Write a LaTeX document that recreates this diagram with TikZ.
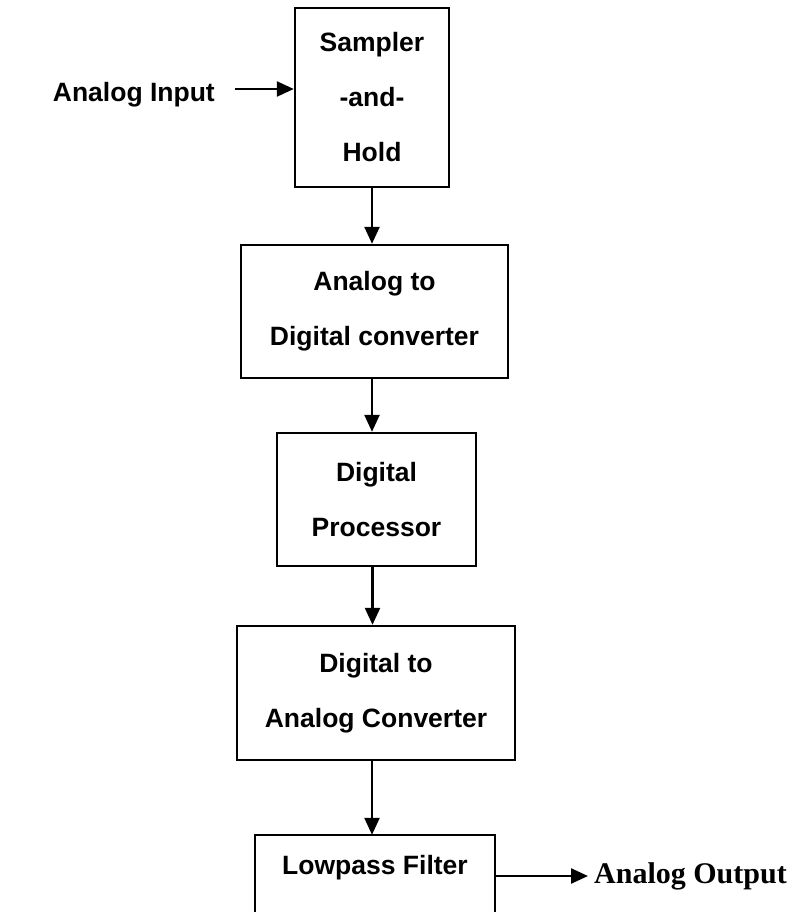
\documentclass[tikz,border=0pt]{standalone}
\usepackage{fontspec}
\setmainfont{Liberation Sans}
\newfontfamily\serifbold{Liberation Serif}
\usetikzlibrary{arrows.meta}
\tikzset{
  blk/.style={draw, line width=2.4pt, align=center, inner sep=0pt,
    font=\fontsize{26.5}{55}\selectfont\bfseries},
  flow/.style={line width=2.4pt, -{Triangle[length=17pt,width=15pt]}},
  lbl/.style={inner sep=0pt, font=\fontsize{26.5}{30}\selectfont\bfseries}
}
\begin{document}
\begin{tikzpicture}[x=1pt,y=-1pt]
\useasboundingbox (0,0) rectangle (793,912);
\clip (0,0) rectangle (793,912);
\fill[white] (0,0) rectangle (793,912);
\node[blk, minimum width=154pt, minimum height=179pt] (S) at (372,97.5) {Sampler\\-and-\\Hold};
\node[blk, minimum width=267pt, minimum height=133pt] (ADC) at (374.5,311.5) {Analog to\\Digital converter};
\node[blk, minimum width=199pt, minimum height=133pt] (DP) at (376.5,499.5) {Digital\\Processor};
\node[blk, minimum width=278pt, minimum height=134pt] (DAC) at (376,693) {Digital to\\Analog Converter};
\node[lbl, minimum width=240pt, minimum height=66pt] (LP) at (375,868) {Lowpass Filter};
\draw[line width=2.4pt] ([yshift=-80pt]LP.south west) -- (LP.north west) -- (LP.north east) -- ([yshift=-80pt]LP.south east);
\node[lbl, anchor=east] (AI) at (215,95) {Analog Input};
\node[inner sep=0pt, anchor=west, font=\fontsize{30}{32}\selectfont\serifbold\bfseries] (AO) at (594,876) {Analog Output};
\coordinate (AIs) at (235,89);
\draw[flow] (AIs) -- (AIs -| S.west);
\draw[flow] (S.south) -- (S.south |- ADC.north);
\draw[flow] (S.south |- ADC.south) -- (S.south |- DP.north);
\draw[flow] ([xshift=-4pt]DP.south) -- ([xshift=-4pt]DP.south |- DAC.north);
\draw[flow] ([xshift=-4pt]DAC.south) -- ([xshift=-4pt]DAC.south |- LP.north);
\draw[flow] (LP.east |- AO.west) -- ([xshift=-6pt]AO.west);
\end{tikzpicture}
\end{document}
